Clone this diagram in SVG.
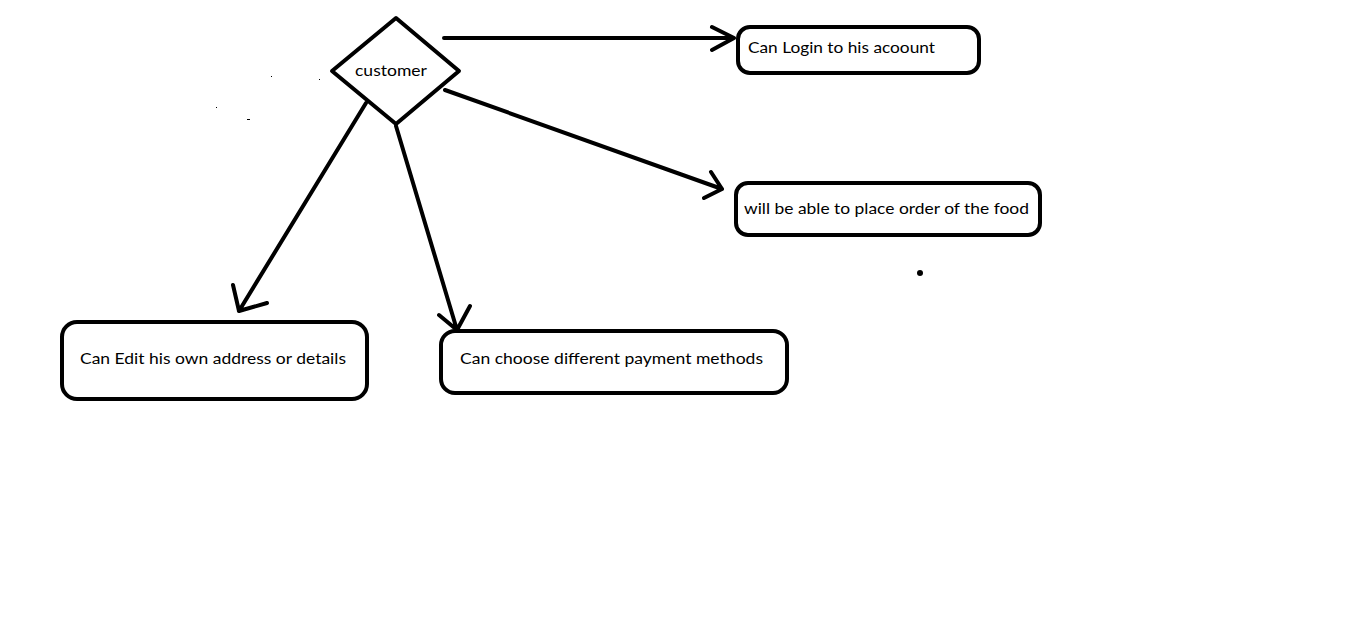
<svg xmlns="http://www.w3.org/2000/svg" width="1360" height="623" viewBox="0 0 1360 623">
  <style>
    .shape { fill: #ffffff; stroke: #000000; stroke-width: 4; stroke-linejoin: round; }
    .link { fill: none; stroke: #000000; stroke-width: 4; stroke-linecap: round; stroke-linejoin: round; }
    .label { font-family: Lato, "Liberation Sans", sans-serif; font-size: 16px; fill: #000000; }
  </style>
  <rect width="1360" height="623" fill="#ffffff"/>

  <!-- connectors: straight strokes with open chevron heads -->
  <g id="connectors">
    <path class="link" d="M444 38 L734 38 M712 27 L734 38 L712 50"/>
    <path class="link" d="M445 90 L722 189 M711 172 L722 189 L704 198"/>
    <path class="link" d="M366 103 L239 311 M233 285 L239 311 L267 303"/>
    <path class="link" d="M396 126 L457 330 M439 315 L457 330 L470 306"/>
  </g>

  <g id="customer">
    <polygon class="shape" points="396,18 459,71 396,124 332,71"/>
    <text class="label" x="355" y="76" textLength="72" lengthAdjust="spacingAndGlyphs">customer</text>
  </g>

  <g id="login">
    <rect class="shape" x="738" y="27" width="241" height="46" rx="12"/>
    <text class="label" x="748" y="53" textLength="187" lengthAdjust="spacingAndGlyphs">Can Login to his acoount</text>
  </g>

  <g id="place-order">
    <rect class="shape" x="736" y="183" width="304" height="52" rx="12"/>
    <text class="label" x="744" y="214" textLength="285" lengthAdjust="spacingAndGlyphs">will be able to place order of the food</text>
  </g>

  <g id="edit-details">
    <rect class="shape" x="62" y="322" width="305" height="77" rx="15"/>
    <text class="label" x="80" y="364" textLength="266" lengthAdjust="spacingAndGlyphs">Can Edit his own address or details</text>
  </g>

  <g id="payment">
    <rect class="shape" x="441" y="331" width="346" height="62" rx="14"/>
    <text class="label" x="460" y="364" textLength="303" lengthAdjust="spacingAndGlyphs">Can choose different payment methods</text>
  </g>

  <!-- loose marks on the canvas -->
  <g id="specks" fill="#000000">
    <circle cx="920" cy="273" r="3"/>
    <rect x="271" y="76" width="1" height="1"/>
    <rect x="319" y="79" width="1" height="1"/>
    <rect x="216" y="107" width="1" height="1"/>
    <rect x="247" y="119" width="3" height="1"/>
  </g>
</svg>
